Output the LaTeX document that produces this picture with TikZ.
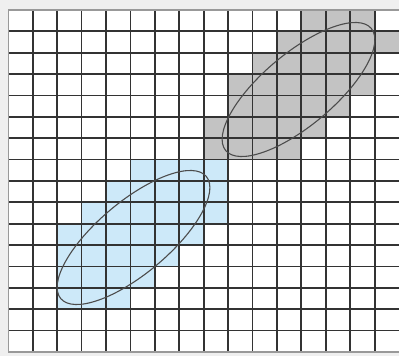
\documentclass[tikz,border=0pt]{standalone}
\usepackage{tikz}
\definecolor{cellblue}{HTML}{CDE9F9}
\definecolor{cellgray}{HTML}{C3C3C3}
\definecolor{pagegray}{HTML}{EFEFEF}
\begin{document}
\begin{tikzpicture}[x=1pt,y=1pt,
          gridline/.style={line width=1.8pt,black!80},
          edgeline/.style={line width=1.5pt,black!40},
          ring/.style={line width=1.1pt,black!70}]
        \useasboundingbox (0,0) rectangle (399,356);
        \fill[pagegray] (0,0) rectangle (399,356);
        \begin{scope}[shift={(8.3,4.1)},x=24.42pt,y=21.37pt]
          \fill[white] (0,0) rectangle (16.1,16);
          % shaded cells: row from top / first column / last column
          \foreach \r/\a/\b in {7/5/8,8/4/8,9/3/8,10/2/7,11/2/6,12/2/5,13/2/4}
            \fill[cellblue] (\a,15-\r) rectangle (\b+1,16-\r);
          \foreach \r/\a/\b in {0/12/14,1/11/15,2/10/14,3/9/14,4/9/13,5/8/12,6/8/11}
            \fill[cellgray] (\a,15-\r) rectangle (\b+1,16-\r);
          % grid
          \foreach \i in {1,...,15} \draw[gridline] (\i,0) -- (\i,16);
          \foreach \j in {1,...,15} \draw[gridline] (0,\j) -- (16,\j);
          \draw[edgeline] (16,0) -- (0,0) -- (0,16) -- (16,16);
        \end{scope}
        % ellipses
        \coordinate (upperc) at (298.5,266.5);
        \coordinate (lowerc) at (133.5,118.5);
        \draw[ring,rotate around={40:(upperc)}] (upperc) ellipse [x radius=95, y radius=36];
        \draw[ring,rotate around={40:(lowerc)}] (lowerc) ellipse [x radius=95, y radius=36];
      \end{tikzpicture}
\end{document}
